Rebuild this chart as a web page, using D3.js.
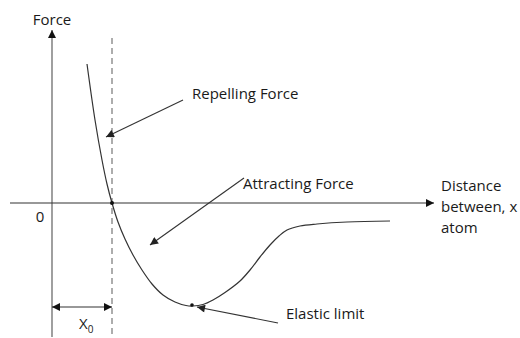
<!DOCTYPE html>
<html><head><meta charset="utf-8">
<script src="https://cdn.jsdelivr.net/npm/d3@7"></script>
<style>body{margin:0;background:#fff}svg{display:block}text{font-family:"Open Sans",Lato,sans-serif;fill:#1a1a1a}</style>
</head><body>
<svg id="c" width="520" height="338"></svg>
<script>
// Force curve (distance between atoms, force) in arbitrary units
const curveX = [3.5, 4.3, 5.0, 5.5, 6.0, 6.6, 7.3, 8.1, 9.0, 10.0, 11.1, 12.3, 13.4, 14.1, 15.1, 16.1, 17.3, 18.8, 19.8, 20.8, 21.8, 22.7, 23.5, 24.8, 26.5, 29.5, 33.8];
const curveY = [13.9, 8.3, 4.3, 1.9, 0, -1.9, -3.6, -5.2, -6.7, -8.1, -9.2, -9.9, -10.25, -10.3, -10.15, -9.7, -8.95, -7.8, -6.7, -5.4, -4.2, -3.3, -2.7, -2.3, -2.1, -1.9, -1.8];
const x0Value = 6.0;
const elasticLimit = [14.0, -10.2];
const annotations = ["Repelling Force", "Attracting Force", "Elastic limit"];
const axisLabels = ["Force", "Distance", "between, x", "atom", "0"];

const svg = d3.select("#c");
const x = d3.scaleLinear().domain([0, 38]).range([52, 432]);
const y = d3.scaleLinear().domain([0, 17]).range([203, 33]);

const defs = svg.append("defs");
function marker(id, color){
  defs.append("marker").attr("id", id).attr("viewBox","0 0 10 10").attr("refX",10).attr("refY",5)
    .attr("markerWidth",10).attr("markerHeight",8).attr("markerUnits","userSpaceOnUse").attr("orient","auto-start-reverse")
    .append("path").attr("d","M0,0 L10,5 L0,10 Z").attr("fill",color);
}
marker("ab","#111");
marker("ag","#222");

// y axis
svg.append("line").attr("x1",x(0)).attr("x2",x(0)).attr("y1",337).attr("y2",30)
  .attr("stroke","#888").attr("stroke-width",1.6).attr("marker-end","url(#ab)");
// x axis
svg.append("line").attr("x1",10).attr("x2",434).attr("y1",y(0)).attr("y2",y(0))
  .attr("stroke","#333").attr("stroke-width",1.1).attr("marker-end","url(#ab)");
// dashed line at x0
svg.append("line").attr("x1",x(x0Value)).attr("x2",x(x0Value)).attr("y1",38).attr("y2",337)
  .attr("stroke","#777").attr("stroke-width",1.2).attr("stroke-dasharray","6,4");

// curve
const pts = curveX.map((d,i)=>[d, curveY[i]]);
svg.append("path").attr("d", d3.line().x(d=>x(d[0])).y(d=>y(d[1])).curve(d3.curveCatmullRom.alpha(0.5))(pts))
  .attr("fill","none").attr("stroke","#333").attr("stroke-width",1.2);

// dots
svg.append("circle").attr("cx",x(x0Value)).attr("cy",y(0)).attr("r",2).attr("fill","#111");
svg.append("circle").attr("cx",x(elasticLimit[0])).attr("cy",y(elasticLimit[1])).attr("r",1.8).attr("fill","#111");

// x0 double arrow
svg.append("line").attr("x1",x(0)).attr("x2",x(x0Value)).attr("y1",307).attr("y2",307)
  .attr("stroke","#333").attr("stroke-width",1.1).attr("marker-start","url(#ab)").attr("marker-end","url(#ab)");

// annotation arrows
function arrow(x1,y1,x2,y2){
  svg.append("line").attr("x1",x1).attr("y1",y1).attr("x2",x2).attr("y2",y2)
    .attr("stroke","#333").attr("stroke-width",1.1).attr("marker-end","url(#ag)");
}
arrow(183,100,106,137);
arrow(244,178,150,245);
arrow(278,323,197,307);

// texts
const fs = 15;
svg.append("text").attr("x",x(0)).attr("y",25).attr("text-anchor","middle").attr("font-size",fs).text(axisLabels[0]);
svg.append("text").attr("x",441).attr("y",191).attr("font-size",fs).text(axisLabels[1]);
svg.append("text").attr("x",441).attr("y",212).attr("font-size",fs).text(axisLabels[2]);
svg.append("text").attr("x",441).attr("y",233).attr("font-size",fs).text(axisLabels[3]);
svg.append("text").attr("x",40).attr("y",222).attr("text-anchor","middle").attr("font-size",fs).text(axisLabels[4]);
svg.append("text").attr("x",192).attr("y",99).attr("font-size",fs).text(annotations[0]);
svg.append("text").attr("x",243).attr("y",189).attr("font-size",fs).text(annotations[1]);
svg.append("text").attr("x",286).attr("y",319).attr("font-size",fs).text(annotations[2]);
const t = svg.append("text").attr("x",79).attr("y",329).attr("font-size",fs);
t.append("tspan").text("X");
t.append("tspan").attr("dy",4).attr("font-size",10).text("0");
</script>
</body></html>
